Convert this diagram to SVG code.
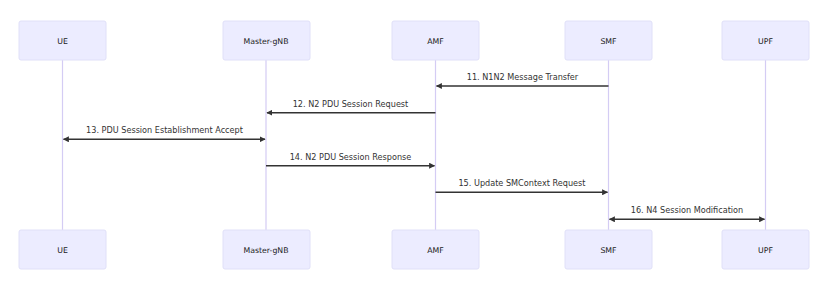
<svg xmlns="http://www.w3.org/2000/svg" width="828" height="288" viewBox="0 0 828 288">
  <style>
    .actor rect { fill: #ececff; stroke: #e0e0f8; stroke-width: 1; }
    .actor text { font-family: "DejaVu Sans", "Liberation Sans", sans-serif; font-size: 7.8px; fill: #222; text-anchor: middle; dominant-baseline: central; }
    .life { stroke: #d4ccf4; stroke-width: 1.2; }
    .msg line { stroke: #333; stroke-width: 1.4; }
    .msg text { font-family: "DejaVu Sans", "Liberation Sans", sans-serif; font-size: 8.15px; fill: #333; text-anchor: middle; }
  </style>
  <defs>
    <marker id="head" viewBox="0 0 10 10" refX="9" refY="5" markerWidth="6" markerHeight="6" orient="auto-start-reverse" markerUnits="userSpaceOnUse">
      <path d="M0,0 L10,5 L0,10 z" fill="#333"/>
    </marker>
  </defs>
  <rect width="828" height="288" fill="#ffffff"/>

  <!-- lifelines -->
  <g id="lifelines">
    <line class="life" x1="62.5" y1="60" x2="62.5" y2="230"/>
    <line class="life" x1="266" y1="60" x2="266" y2="230"/>
    <line class="life" x1="435.5" y1="60" x2="435.5" y2="230"/>
    <line class="life" x1="608.5" y1="60" x2="608.5" y2="230"/>
    <line class="life" x1="765.5" y1="60" x2="765.5" y2="230"/>
  </g>

  <!-- participants, top row -->
  <g id="ue-top" class="actor"><rect x="19" y="21" width="87" height="39" rx="2"/><text x="62.5" y="41">UE</text></g>
  <g id="gnb-top" class="actor"><rect x="223" y="21" width="87" height="39" rx="2"/><text x="266" y="41">Master-gNB</text></g>
  <g id="amf-top" class="actor"><rect x="392" y="21" width="87" height="39" rx="2"/><text x="435.5" y="41">AMF</text></g>
  <g id="smf-top" class="actor"><rect x="565" y="21" width="87" height="39" rx="2"/><text x="608.5" y="41">SMF</text></g>
  <g id="upf-top" class="actor"><rect x="722" y="21" width="87" height="39" rx="2"/><text x="765.5" y="41">UPF</text></g>

  <!-- participants, bottom row -->
  <g id="ue-bottom" class="actor"><rect x="19" y="230" width="87" height="39" rx="2"/><text x="62.5" y="250">UE</text></g>
  <g id="gnb-bottom" class="actor"><rect x="223" y="230" width="87" height="39" rx="2"/><text x="266" y="250">Master-gNB</text></g>
  <g id="amf-bottom" class="actor"><rect x="392" y="230" width="87" height="39" rx="2"/><text x="435.5" y="250">AMF</text></g>
  <g id="smf-bottom" class="actor"><rect x="565" y="230" width="87" height="39" rx="2"/><text x="608.5" y="250">SMF</text></g>
  <g id="upf-bottom" class="actor"><rect x="722" y="230" width="87" height="39" rx="2"/><text x="765.5" y="250">UPF</text></g>

  <!-- messages -->
  <g id="connectors" class="msg">
    <line x1="608.5" y1="86" x2="436.5" y2="86" marker-end="url(#head)"/>
    <text x="522.5" y="80">11. N1N2 Message Transfer</text>

    <line x1="435.5" y1="112.7" x2="267" y2="112.7" marker-end="url(#head)"/>
    <text x="350.5" y="106.5">12. N2 PDU Session Request</text>

    <line x1="63.5" y1="139.3" x2="265" y2="139.3" marker-start="url(#head)" marker-end="url(#head)"/>
    <text x="164.5" y="133">13. PDU Session Establishment Accept</text>

    <line x1="266" y1="165.7" x2="434.5" y2="165.7" marker-end="url(#head)"/>
    <text x="350.5" y="159.5">14. N2 PDU Session Response</text>

    <line x1="435.5" y1="192.3" x2="607.5" y2="192.3" marker-end="url(#head)"/>
    <text x="522" y="186">15. Update SMContext Request</text>

    <line x1="609.5" y1="219.3" x2="764.5" y2="219.3" marker-start="url(#head)" marker-end="url(#head)"/>
    <text x="687" y="213">16. N4 Session Modification</text>
  </g>
</svg>
